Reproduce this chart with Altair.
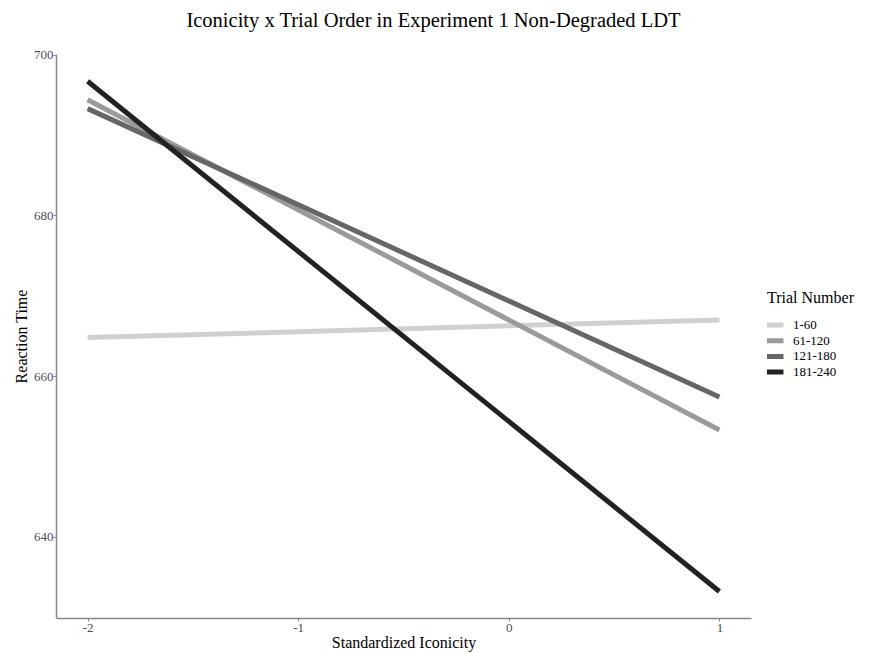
import altair as alt
import pandas as pd

groups = ["1-60", "61-120", "121-180", "181-240"]
x_start = [-2, -2, -2, -2]
x_end = [1, 1, 1, 1]
y_start = [664.8, 694.4, 693.3, 696.7]
y_end = [667.0, 653.3, 657.4, 633.2]
colors = ["#D0D0D0", "#9A9A9A", "#666666", "#222222"]
x_ticks = [-2, -1, 0, 1]
y_ticks = [640, 660, 680, 700]

rows = []
for g, xs, xe, ys, ye in zip(groups, x_start, x_end, y_start, y_end):
    rows.append({"group": g, "x": xs, "y": ys})
    rows.append({"group": g, "x": xe, "y": ye})
df = pd.DataFrame(rows)

FONT = "Liberation Serif"

chart = alt.Chart(df).mark_line(strokeWidth=5, strokeCap="butt").encode(
    x=alt.X("x:Q", scale=alt.Scale(domain=[-2.15, 1.15], nice=False, zero=False),
            axis=alt.Axis(title="Standardized Iconicity", values=x_ticks, grid=False,
                          labelExpr="datum.value < 0 ? '-' + abs(datum.value) : datum.label")),
    y=alt.Y("y:Q", scale=alt.Scale(domain=[629.9, 700.1], nice=False, zero=False),
            axis=alt.Axis(title="Reaction Time", values=y_ticks, grid=False)),
    color=alt.Color("group:N", sort=groups,
                    scale=alt.Scale(domain=groups, range=colors),
                    legend=alt.Legend(title="Trial Number", orient="none",
                                      legendX=711, legendY=236,
                                      symbolType="M-1.6,0H1.6", symbolSize=112,
                                      symbolStrokeWidth=5, labelOffset=10,
                                      clipHeight=14, rowPadding=1.7, titlePadding=12)),
    detail="group:N",
).properties(
    width=695,
    height=564,
    autosize=alt.AutoSizeParams(type="none"),
    padding={"left": 48, "top": 46, "right": 110, "bottom": 40},
    title=alt.TitleParams("Iconicity x Trial Order in Experiment 1 Non-Degraded LDT",
                          fontSize=20.5, font=FONT, fontWeight="normal", color="#000000",
                          anchor="middle", dx=30, offset=17),
).configure_view(stroke=None).configure_axis(
    labelFont=FONT, titleFont=FONT, labelFontSize=13, titleFontSize=16,
    labelColor="#4d4d4d", titleColor="#000000", titleFontWeight="normal",
    domainColor="#888888", domainWidth=1.5, tickColor="#888888", tickSize=3,
    labelPadding=0,
).configure_axisX(titlePadding=0).configure_axisY(titlePadding=4).configure_legend(
    titleFont=FONT, labelFont=FONT, titleFontSize=16, labelFontSize=13,
    titleFontWeight="normal", titleColor="#000000", labelColor="#000000",
)

chart.save("out.html", embed_options={"renderer": "svg", "actions": False})
